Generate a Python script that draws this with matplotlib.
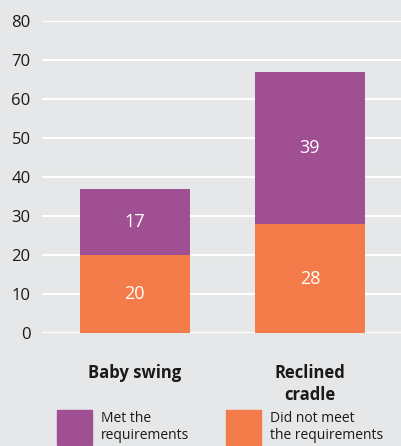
import matplotlib
matplotlib.use("Agg")
import matplotlib.pyplot as plt
from matplotlib.patches import Rectangle

categories = ["Baby swing", "Reclined\ncradle"]
did_not_meet = [20, 28]
met = [17, 39]
yticks = [0, 10, 20, 30, 40, 50, 60, 70, 80]

bg = "#e6e7e8"
purple = "#a05092"
orange = "#f47c4a"

plt.rcParams["font.family"] = ["Open Sans", "DejaVu Sans"]

fig = plt.figure(figsize=(4.02, 4.46), dpi=100, facecolor=bg)
ax = fig.add_axes([0.104, 0.253, 0.896, 0.700], facecolor=bg)

x = list(range(len(categories)))
w = 0.63
ax.bar(x, did_not_meet, width=w, color=orange, zorder=3)
ax.bar(x, met, width=w, bottom=did_not_meet, color=purple, zorder=3)

for xi, lo, hi in zip(x, did_not_meet, met):
    ax.text(xi, lo / 2, f"{lo}", ha="center", va="center", color="white", fontsize=13, zorder=4)
    ax.text(xi, lo + hi / 2, f"{hi}", ha="center", va="center", color="white", fontsize=13, zorder=4)

ax.set_ylim(0, 80)
ax.set_xlim(-0.531, 1.526)
ax.set_yticks(yticks)
ax.set_yticklabels([str(t) for t in yticks], fontsize=12, color="#1a1a1a")
ax.tick_params(axis="y", length=0, pad=8)
ax.set_xticks(x)
ax.set_xticklabels(categories, fontsize=12, fontweight="bold", color="#1a1a1a", linespacing=1.3)
ax.tick_params(axis="x", length=0, pad=22)
ax.grid(axis="y", color="white", linewidth=1.5, zorder=0)
for s in ax.spines.values():
    s.set_visible(False)

# legend swatches and labels
items = [(purple, "Met the\nrequirements", 57), (orange, "Did not meet\nthe requirements", 226)]
W, H = 402.0, 446.0
for col, label, px in items:
    fig.add_artist(Rectangle((px / W, 1 - 445 / H), 35 / W, 35 / H,
                             transform=fig.transFigure, color=col))
    fig.text((px + 44) / W, 1 - 427 / H, label, ha="left", va="center",
             fontsize=10, color="#1a1a1a", linespacing=1.25)

fig.savefig("out.png", dpi=100, facecolor=bg)
